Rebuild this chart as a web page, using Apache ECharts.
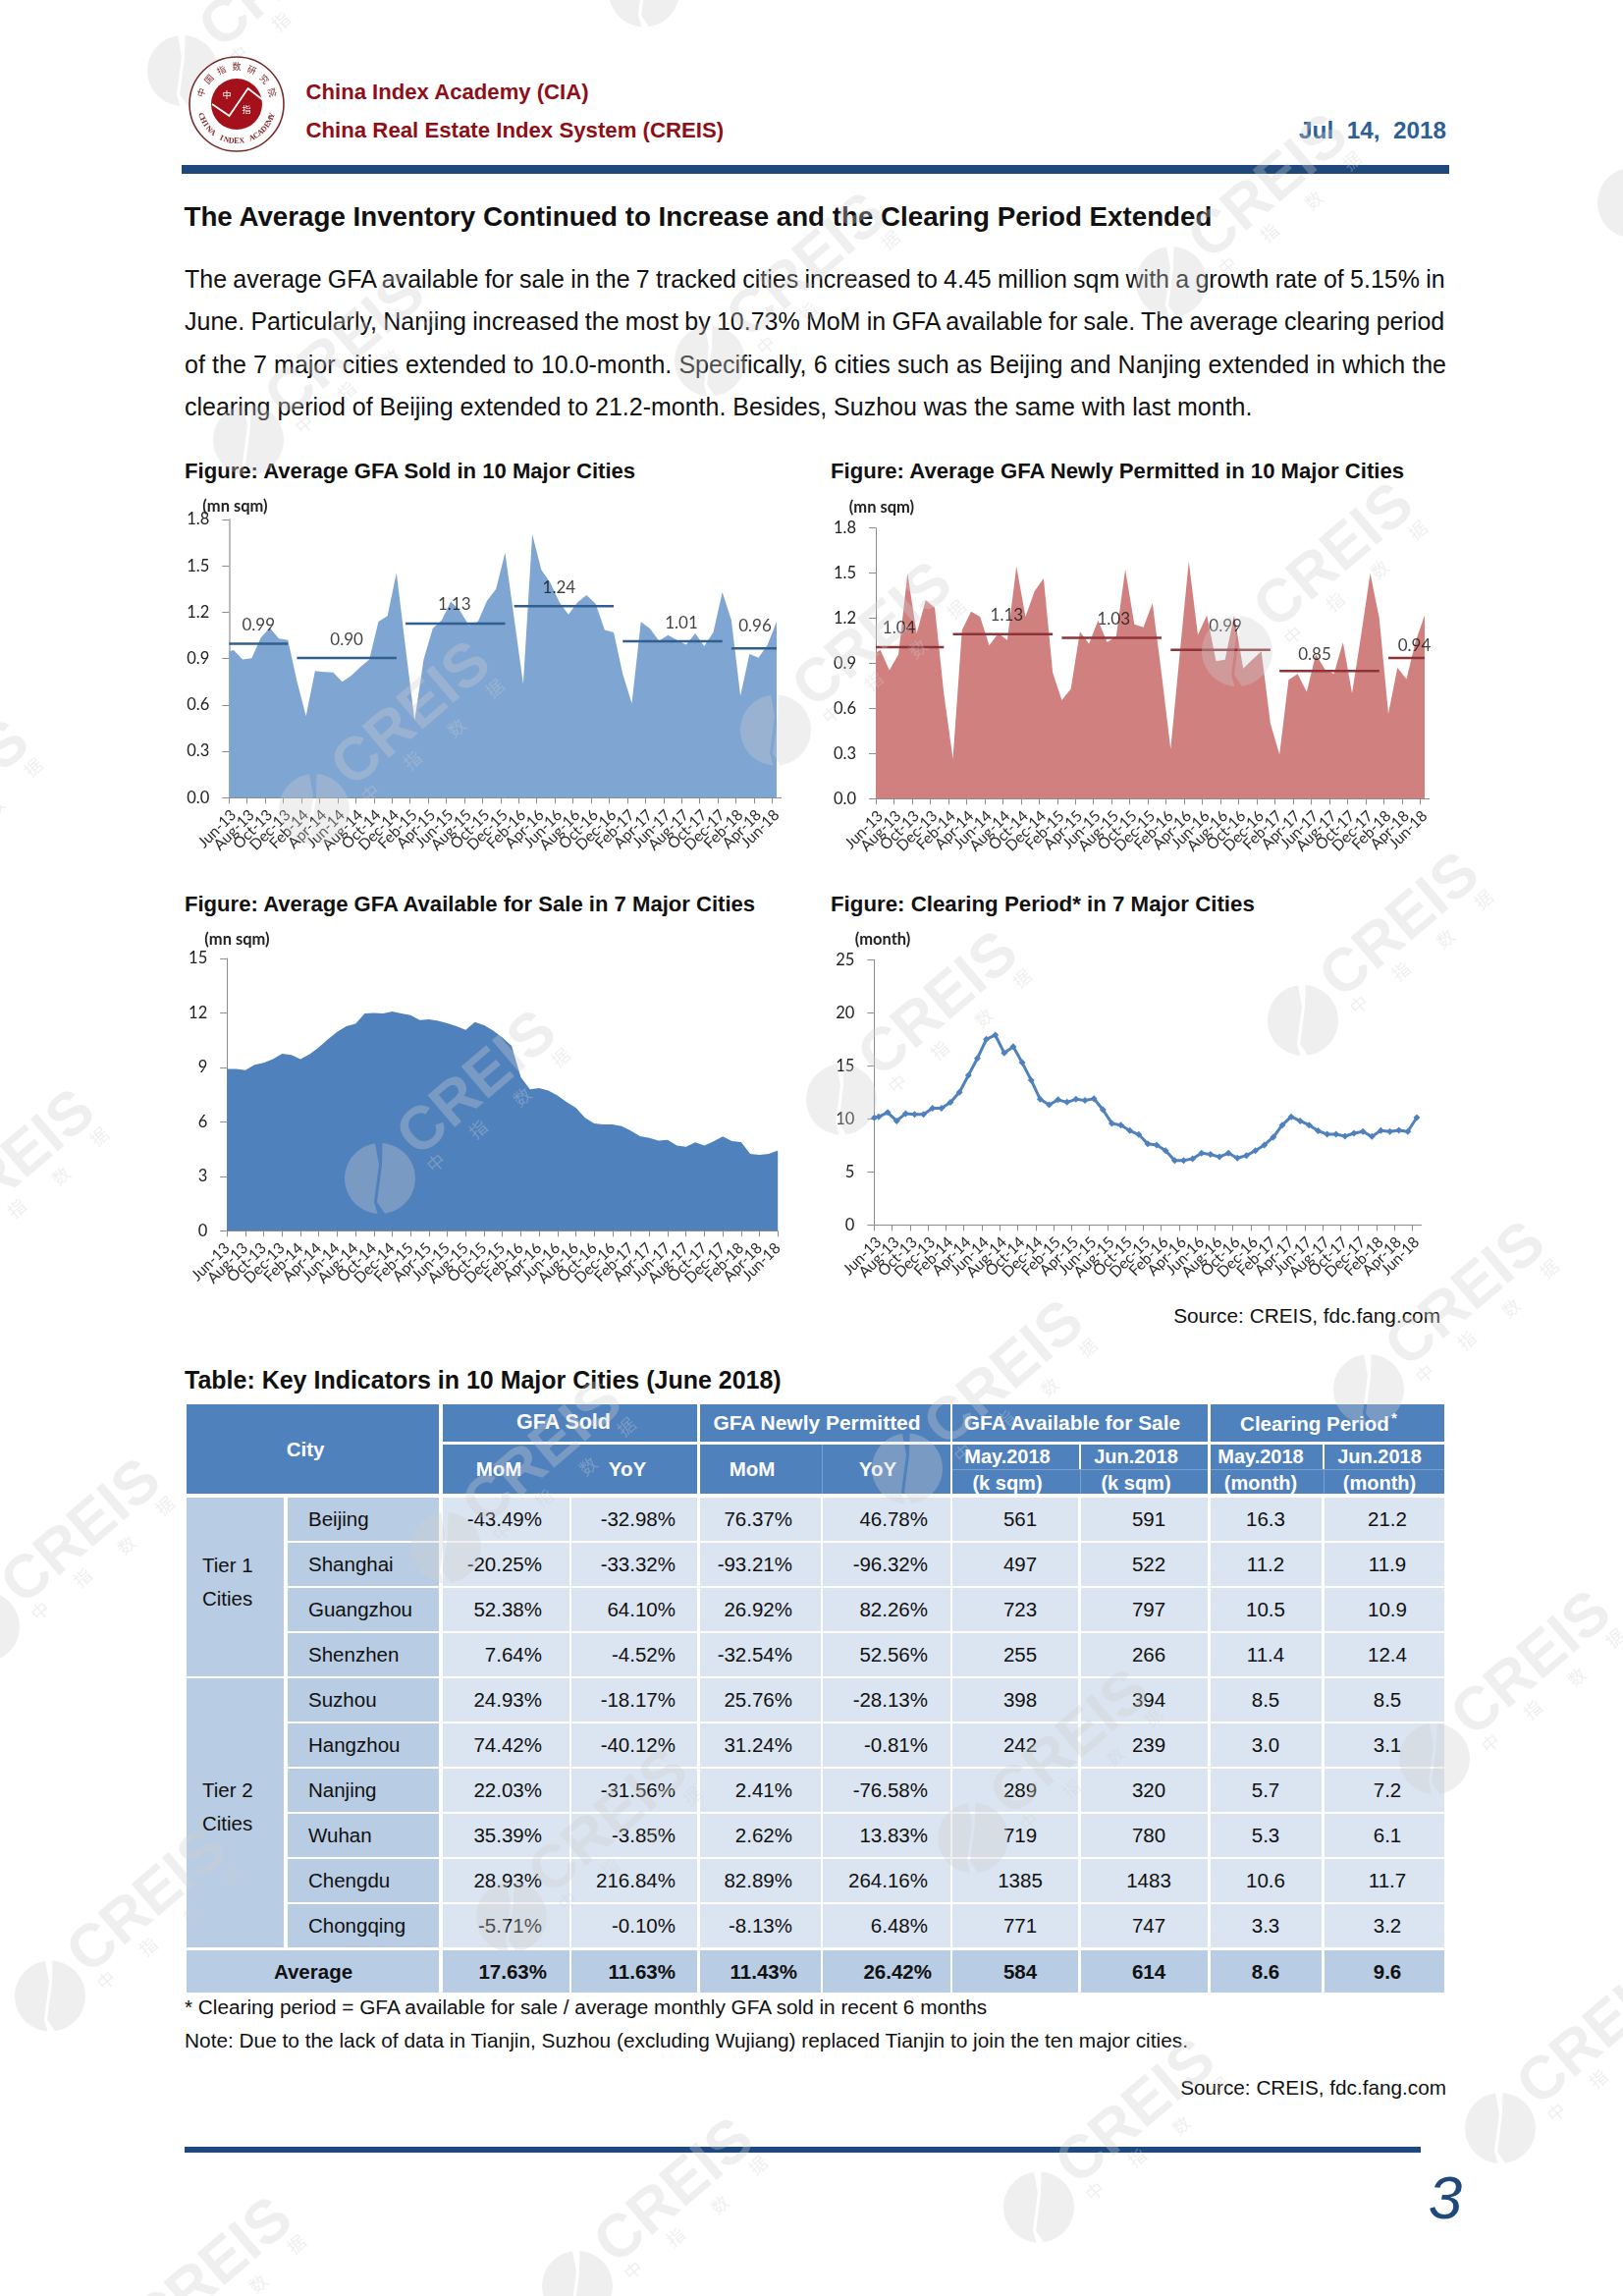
<!DOCTYPE html>
<html><head><meta charset="utf-8"><title>CREIS Inventory and Clearing Period</title>
<style>
html,body{margin:0;padding:0;background:#fff}
#page{position:relative;width:1653px;height:2338px;overflow:hidden;font-family:"Liberation Sans",Arial,sans-serif;color:#111}
#page .t{position:absolute;white-space:pre;transform:translateY(-50%);line-height:1.1}
#page .r{position:absolute}
#chart{position:absolute;left:0;top:0;width:1653px;height:2338px;pointer-events:none;z-index:10}
</style>
<script src="https://cdn.jsdelivr.net/npm/echarts@6/dist/echarts.min.js"></script>
</head><body><div id="page"><div id="chart"></div></div>
<script>
// ---------- chart data ----------
const tickLabels = ["Jun-13","Aug-13","Oct-13","Dec-13","Feb-14","Apr-14","Jun-14","Aug-14","Oct-14","Dec-14","Feb-15","Apr-15","Jun-15","Aug-15","Oct-15","Dec-15","Feb-16","Apr-16","Jun-16","Aug-16","Oct-16","Dec-16","Feb-17","Apr-17","Jun-17","Aug-17","Oct-17","Dec-17","Feb-18","Apr-18","Jun-18"];
const gfaSoldEdge = 0.947;
const gfaSold = [0.955,0.894,0.902,1.035,1.10,1.03,1.02,0.755,0.527,0.82,0.813,0.81,0.75,0.79,0.845,0.894,1.14,1.175,1.455,0.97,0.50,0.894,1.095,1.148,1.27,1.21,1.115,1.14,1.275,1.35,1.586,1.16,0.735,1.705,1.475,1.39,1.265,1.185,1.265,1.31,1.255,1.085,1.07,0.80,0.61,1.137,1.095,1.015,1.052,1.02,0.99,1.063,0.98,1.07,1.33,1.148,0.66,0.93,0.905,0.99,1.14];
const gfaSoldAvgLine = [0.997,0.904,1.127,1.24,1.012,0.966];
const gfaSoldAvgText = ["0.99","0.90","1.13","1.24","1.01","0.96"];
const gfaSoldSpans = [[0,6.5],[7.5,18.5],[19.5,30.5],[31.5,42.5],[43.5,54.5],[55.5,60.5]];
const gfaPermittedEdge = 0.97;
const gfaPermitted = [0.99,0.855,0.96,1.50,1.10,1.32,1.27,0.70,0.265,1.12,1.245,1.21,1.02,1.10,1.055,1.545,1.21,1.38,1.465,0.84,0.655,0.73,1.11,1.03,1.185,1.04,1.08,1.525,1.16,1.14,1.30,0.83,0.33,0.96,1.58,1.09,1.22,0.915,0.925,1.22,0.865,0.925,0.98,0.50,0.295,0.79,0.83,0.71,0.96,0.86,0.83,1.04,0.70,1.09,1.50,1.20,0.565,0.87,0.795,1.045,1.22];
const gfaPermittedAvgLine = [1.008,1.095,1.07,0.99,0.85,0.936];
const gfaPermittedAvgText = ["1.04","1.13","1.03","0.99","0.85","0.94"];
const gfaPermittedSpans = [[0,7.5],[8.5,19.5],[20.5,31.5],[32.5,43.5],[44.5,55.5],[56.5,60.5]];
const gfaAvailable = [8.92,8.92,8.85,9.15,9.25,9.45,9.75,9.68,9.45,9.73,10.1,10.55,10.96,11.27,11.4,11.97,12.0,11.97,12.08,11.97,11.88,11.6,11.65,11.57,11.43,11.27,11.07,11.5,11.32,11.03,10.64,10.19,8.47,7.79,7.86,7.72,7.45,7.09,6.78,6.22,5.91,5.86,5.86,5.77,5.5,5.21,5.12,4.96,5.01,4.7,4.63,4.87,4.69,4.92,5.19,4.94,4.89,4.24,4.18,4.24,4.42];
const clearingEdge = 10.1;
const clearingPeriod = [10.2,10.6,9.8,10.5,10.43,10.43,11.0,11.0,11.55,12.5,14.1,15.7,17.5,17.9,16.2,16.8,15.3,13.65,11.85,11.33,11.8,11.57,11.85,11.73,11.9,10.86,9.57,9.41,8.89,8.52,7.65,7.53,7.0,6.08,6.08,6.23,6.76,6.64,6.42,6.76,6.3,6.54,7.0,7.53,8.27,9.41,10.2,9.8,9.41,8.86,8.55,8.55,8.36,8.64,8.8,8.33,8.89,8.8,8.92,8.8,10.12];

// ---------- table data ----------
const tableCities = ["Beijing","Shanghai","Guangzhou","Shenzhen","Suzhou","Hangzhou","Nanjing","Wuhan","Chengdu","Chongqing"];
const soldMoM = ["-43.49%","-20.25%","52.38%","7.64%","24.93%","74.42%","22.03%","35.39%","28.93%","-5.71%"];
const soldYoY = ["-32.98%","-33.32%","64.10%","-4.52%","-18.17%","-40.12%","-31.56%","-3.85%","216.84%","-0.10%"];
const permitMoM = ["76.37%","-93.21%","26.92%","-32.54%","25.76%","31.24%","2.41%","2.62%","82.89%","-8.13%"];
const permitYoY = ["46.78%","-96.32%","82.26%","52.56%","-28.13%","-0.81%","-76.58%","13.83%","264.16%","6.48%"];
const availMay = ["561","497","723","255","398","242","289","719","1385","771"];
const availJun = ["591","522","797","266","394","239","320","780","1483","747"];
const clearMay = ["16.3","11.2","10.5","11.4","8.5","3.0","5.7","5.3","10.6","3.3"];
const clearJun = ["21.2","11.9","10.9","12.4","8.5","3.1","7.2","6.1","11.7","3.2"];
const averageRow = ["17.63%","11.63%","11.43%","26.42%","584","614","8.6","9.6"];

// ---------- page text ----------
const bodyLines = [
 "The average GFA available for sale in the 7 tracked cities increased to 4.45 million sqm with a growth rate of 5.15% in",
 "June. Particularly, Nanjing increased the most by 10.73% MoM in GFA available for sale. The average clearing period",
 "of the 7 major cities extended to 10.0-month. Specifically, 6 cities such as Beijing and Nanjing extended in which the",
 "clearing period of Beijing extended to 21.2-month. Besides, Suzhou was the same with last month."];

const page = document.getElementById('page');
const mctx = document.createElement('canvas').getContext('2d');
const FF = '"Liberation Sans",Arial,sans-serif';
function fit(text, bold, w, italic){
  mctx.font = (italic?'italic ':'')+(bold?'bold ':'')+'100px '+FF;
  return 100*w/mctx.measureText(text).width;
}
function put(text, x, y, o){
  o = o||{};
  const d = document.createElement('div'); d.className='t';
  const size = o.size || fit(text, o.bold, o.w, o.italic);
  d.textContent = text;
  d.style.fontSize = size+'px';
  d.style.top = y+'px';
  if(o.bold) d.style.fontWeight='bold';
  if(o.italic) d.style.fontStyle='italic';
  if(o.color) d.style.color=o.color;
  if(o.align==='center'){ d.style.left=x+'px'; d.style.transform='translate(-50%,-50%)'; }
  else if(o.align==='right'){ d.style.right=(1653-x)+'px'; }
  else d.style.left=x+'px';
  page.appendChild(d);
  return d;
}
function rect(x0,y0,x1,y1,c){
  const d=document.createElement('div'); d.className='r';
  d.style.cssText+=`left:${x0}px;top:${y0}px;width:${x1-x0}px;height:${y1-y0}px;background:${c}`;
  page.appendChild(d);
  return d;
}
// header
const RED='#8f0f18', NAVY='#1f497d';
put("China Index Academy (CIA)",311.5,94,{w:289,bold:1,color:RED});
put("China Real Estate Index System (CREIS)",311.5,133,{w:426,bold:1,color:RED});
put("Jul  14,  2018",1473,133,{w:150,bold:1,color:'#2d5f96',align:'right'});
rect(185,168,1476,176.5,NAVY);
put("The Average Inventory Continued to Increase and the Clearing Period Extended",187.5,220.5,{w:1048,bold:1});
const bodySize = fit(bodyLines[3],false,1088);
[284.7,328,372,414.5].forEach((y,i)=>{
  const d=put(bodyLines[i],188,y,{size:bodySize});
  if(i<3){
    mctx.font=bodySize+'px '+FF;
    const gaps=bodyLines[i].split(' ').length-1;
    d.style.wordSpacing=((1285-mctx.measureText(bodyLines[i]).width)/gaps)+'px';
  }
});
put("Figure: Average GFA Sold in 10 Major Cities",188,480,{w:461,bold:1});
put("Figure: Average GFA Newly Permitted in 10 Major Cities",846,480,{w:586,bold:1});
put("Figure: Average GFA Available for Sale in 7 Major Cities",188,921,{w:584,bold:1});
put("Figure: Clearing Period* in 7 Major Cities",846,921,{w:432,bold:1});
put("Source: CREIS, fdc.fang.com",1467,1340,{w:272,align:'right'});
put("Table: Key Indicators in 10 Major Cities (June 2018)",188,1405.5,{w:608,bold:1});
put("* Clearing period = GFA available for sale / average monthly GFA sold in recent 6 months",188,2043.5,{w:820});
put("Note: Due to the lack of data in Tianjin, Suzhou (excluding Wujiang) replaced Tianjin to join the ten major cities.",188,2078,{w:1023});
put("Source: CREIS, fdc.fang.com",1473,2126,{w:271,align:'right'});
rect(188,2185.5,1447,2191.5,NAVY);
put("3",1472,2238,{size:62,italic:1,color:NAVY,align:'center'});

// table
const HEAD='#4f81bd', MID='#b8cce4', LIGHT='#dbe5f1';
const cx=[[190,291],[293,447],[451,580],[582,710],[713,836],[838,968],[970,1098],[1101,1230],[1233,1346],[1349,1471]];
const rowTop=i=>1525+46*i, rowH=43.5;
rect(190,1430,447,1521,HEAD);
[[451,710],[713,968],[970,1230],[1233,1471]].forEach(g=>{
  rect(g[0],1430,g[1],1468,HEAD); rect(g[0],1471,g[1],1521,HEAD);
});
rect(836.5,1471,837.5,1521,'#7aa0cf');
[1098.5,1346.5].forEach(v=>{ rect(v,1471,v+2.5,1496,'#fff'); rect(v+1,1496,v+2,1521,'#7aa0cf'); });
rect(970,1495.5,1230,1496.5,'#7aa0cf'); rect(1233,1495.5,1471,1496.5,'#7aa0cf');
const HB={bold:1,color:'#fff',align:'center'}, H=s=>Object.assign({},HB,{size:s});
put("City",311,1476,H(20.5));
put("GFA Sold",574,1449,H(21.5)); put("GFA Newly Permitted",832,1449,{bold:1,color:'#fff',align:'center',w:212});
put("GFA Available for Sale",1092,1449,{bold:1,color:'#fff',align:'center',w:222}); put("Clearing Period",1339,1450,{bold:1,color:'#fff',align:'center',w:152});
put("*",1420,1444,H(15));
put("MoM",508,1496,H(20.5)); put("YoY",639,1496,H(20.5)); put("MoM",766,1496,H(20.5)); put("YoY",894,1496,H(20.5));
[[1026,"(k sqm)"],[1157,"(k sqm)"],[1284,"(month)"],[1405,"(month)"]].forEach((c,i)=>{
  put(i%2?"Jun.2018":"May.2018",c[0],1483,H(20));
  put(c[1],c[0],1510,H(20));
});
rect(190,1525,289,rowTop(3)+rowH,MID); rect(190,rowTop(4),289,rowTop(9)+rowH,MID);
put("Tier 1",206,1594,{size:20.5}); put("Cities",206,1628,{size:20.5});
put("Tier 2",206,1823,{size:20.5}); put("Cities",206,1857,{size:20.5});
const valueCols=[soldMoM,soldYoY,permitMoM,permitYoY,availMay,availJun,clearMay,clearJun];
const pad=[28,22,29,23], padAvg=[23,22,24,19];
const centerX=[1039,1170,1289,1413];
tableCities.forEach((c,i)=>{
  const y=rowTop(i), m=y+rowH/2;
  rect(293,y,447,y+rowH,MID);
  put(c,314,m,{size:20.5});
  valueCols.forEach((col,j)=>{
    const b=cx[j+2];
    rect(b[0],y,b[1],y+rowH,LIGHT);
    if(j<4) put(col[i],b[1]-pad[j],m,{size:20.5,align:'right'});
    else put(col[i],centerX[j-4],m,{size:20.5,align:'center'});
  });
});
{
  const y=rowTop(10)+0.5, m=y+22;
  rect(190,y,447,2029,MID);
  put("Average",319,m,{size:20.5,bold:1,align:'center'});
  averageRow.forEach((v,j)=>{
    const b=cx[j+2];
    rect(b[0],y,b[1],2029,MID);
    if(j<4) put(v,b[1]-padAvg[j],m,{size:20.5,bold:1,align:'right'});
    else put(v,centerX[j-4],m,{size:20.5,bold:1,align:'center'});
  });
}

// ---------- charts ----------
const LF='Lato';
const tickEven=[...Array(31).keys()].map(i=>i*2);
const sparseMonths=tickLabels.flatMap((t,i)=>i<30?[t,'']:[t]);
function valueX(g, spanMax){
  return {gridIndex:g,type:'value',position:'bottom',min:0,max:spanMax,interval:2,splitLine:{show:false},
    axisLine:{show:true,onZero:false,lineStyle:{color:'#8c8c8c',width:1}},
    axisTick:{show:true,length:6,lineStyle:{color:'#8c8c8c'},customValues:tickEven},
    axisLabel:{show:false}};
}
function labelX(g, gap){
  return {gridIndex:g,type:'category',position:'bottom',boundaryGap:gap,data:sparseMonths,
    axisLine:{show:false,onZero:false},axisTick:{show:false},
    axisLabel:{show:true,interval:0,rotate:45,margin:15,fontFamily:LF,fontSize:15.5,color:'#2b2b2b',hideOverlap:false}};
}
function yAxisFor(g,max,iv,dec,lc){
  return {gridIndex:g,type:'value',min:0,max:max,interval:iv,splitLine:{show:false},
    axisLine:{show:true,lineStyle:{color:lc,width:lc==='#bdbdbd'?2:1}},
    axisTick:{show:true,length:7,lineStyle:{color:'#8c8c8c'}},
    axisLabel:{margin:20,fontFamily:LF,fontSize:16.5,color:'#222',formatter:v=>v.toFixed(dec)}};
}
const grids=[
 {left:233.3,top:529,width:562.3,height:283.3},
 {left:892,top:537.7,width:563.6,height:275.6},
 {left:231.2,top:976,width:561,height:277.3},
 {left:890.4,top:977.3,width:557.1,height:270}
];
const xAxes=[valueX(0,61),valueX(1,61),valueX(2,60),valueX(3,61),labelX(0,true),labelX(1,true),labelX(2,false),labelX(3,true)];
const yAxes=[yAxisFor(0,1.8,0.3,1,'#bdbdbd'),yAxisFor(1,1.8,0.3,1,'#8c8c8c'),yAxisFor(2,15,3,0,'#8c8c8c'),yAxisFor(3,25,5,0,'#8c8c8c')];
const binned=(edge,vals)=>[[0,edge]].concat(vals.map((v,i)=>[i+0.5,v]));
const series=[];
function area(g,data,color){
  series.push({type:'line',xAxisIndex:g,yAxisIndex:g,data:data,showSymbol:false,symbol:'none',silent:true,
    lineStyle:{width:0},itemStyle:{color:color},areaStyle:{color:color,opacity:1},z:2,animation:false});
}
function avgSegs(g,spans,vals,texts,color,shift){
  spans.forEach((s,i)=>{
    series.push({type:'line',xAxisIndex:g,yAxisIndex:g,data:[[s[0],vals[i]],[s[1],vals[i]]],showSymbol:false,symbol:'none',silent:true,
      lineStyle:{width:2.5,color:color},z:3,animation:false});
  });
  series.push({type:'scatter',xAxisIndex:g,yAxisIndex:g,symbolSize:1,silent:true,itemStyle:{color:'transparent'},z:4,animation:false,
    data:spans.map((s,i)=>({value:[(s[0]+s[1])/2,vals[i]],
      label:{show:true,position:'top',distance:10,offset:shift[i],formatter:texts[i],fontFamily:LF,fontSize:17,color:'#111'}}))});
}
area(0,binned(gfaSoldEdge,gfaSold),'#7fa5d2');
avgSegs(0,gfaSoldSpans,gfaSoldAvgLine,gfaSoldAvgText,'#31608f',[[0,0],[0,0],[-1,0],[-5,0],[9,0],[1,-4]]);
area(1,binned(gfaPermittedEdge,gfaPermitted),'#d18080');
avgSegs(1,gfaPermittedSpans,gfaPermittedAvgLine,gfaPermittedAvgText,'#8e3437',[[-11,0],[4,0],[2,0],[5,-5],[-15,2],[8,7]]);
area(2,gfaAvailable.map((v,i)=>[i,v]),'#4f81bd');
series.push({type:'line',xAxisIndex:3,yAxisIndex:3,data:binned(clearingEdge,clearingPeriod),symbol:'diamond',symbolSize:7,showSymbol:true,showAllSymbol:true,
  lineStyle:{width:3,color:'#4f81bd'},itemStyle:{color:'#4f81bd'},animation:false,silent:true,z:3});

// ---------- graphics: unit captions, logo, watermark ----------
const gfx=[];
[["(mn sqm)",239.5,516],["(mn sqm)",898,517],["(mn sqm)",241.5,957],["(month)",899,957]].forEach(u=>{
  gfx.push({type:'text',x:u[1],y:u[2],z:5,silent:true,style:{text:u[0],align:'center',verticalAlign:'middle',font:'bold 16.5px '+LF,fill:'#222'}});
});
// watermark tile
const WMFILL='rgba(205,205,205,0.33)';
for(let m=-1;m<=3;m++)for(let n=-3;n<=5;n++){
  const lx=320+470*m+67*n, ly=824-80.5*m+376*n;
  if(lx<-250||lx>1800||ly<-120||ly>2450) continue;
  const R=36;
  const left=[],right=[];
  for(let a=184;a<=356;a+=8){const r=a*Math.PI/180;left.push([lx+R*Math.sin(r),ly-R*Math.cos(r)]);}
  for(let a=4;a<=176;a+=8){const r=a*Math.PI/180;right.push([lx+R*Math.sin(r),ly-R*Math.cos(r)]);}
  gfx.push({type:'polygon',z:50,silent:true,shape:{points:left.concat([[lx-1,ly-14],[lx-6,ly+24]])},style:{fill:WMFILL}});
  gfx.push({type:'polygon',z:50,silent:true,shape:{points:right.concat([[lx-3,ly+24],[lx+2,ly-14]])},style:{fill:WMFILL}});
  gfx.push({type:'text',z:50,silent:true,x:lx+100,y:ly-95,rotation:40.5*Math.PI/180,
    style:{text:'CREIS',align:'center',verticalAlign:'middle',font:'bold 62px "Liberation Sans"',fill:WMFILL}});
  [[57,-16,'中'],[100,-50,'指'],[145,-83,'数'],[184,-123,'据']].forEach(c=>{
    gfx.push({type:'text',z:50,silent:true,x:lx+c[0],y:ly+c[1],rotation:40.5*Math.PI/180,
      style:{text:c[2],align:'center',verticalAlign:'middle',font:'18px "Noto Sans CJK SC"',fill:WMFILL}});
  });
}
// CIA seal
const sx=241,sy=106;
gfx.push({type:'circle',z:60,silent:true,shape:{cx:sx,cy:sy,r:48},style:{fill:'#fff',stroke:'#7c2b2b',lineWidth:1.6}});
gfx.push({type:'circle',z:61,silent:true,shape:{cx:sx,cy:sy,r:26},style:{fill:'#a5111a'}});
gfx.push({type:'polyline',z:62,silent:true,shape:{points:[[216,106],[233.5,118],[252.6,90],[268,102]]},style:{stroke:'#fff',lineWidth:1.8,fill:'none'}});
gfx.push({type:'text',z:62,silent:true,x:231,y:97,style:{text:'中',align:'center',verticalAlign:'middle',font:'9px "Noto Sans CJK SC"',fill:'#fff'}});
gfx.push({type:'text',z:62,silent:true,x:251,y:112,style:{text:'指',align:'center',verticalAlign:'middle',font:'9px "Noto Sans CJK SC"',fill:'#fff'}});
const sealTop='中国指数研究院', sealBot='CHINA INDEX ACADEMY';
[...sealTop].forEach((c,i)=>{
  const th=(-72+24*i)*Math.PI/180;
  gfx.push({type:'text',z:62,silent:true,x:sx+38*Math.sin(th),y:sy-38*Math.cos(th),rotation:-th,
    style:{text:c,align:'center',verticalAlign:'middle',font:'9px "Noto Sans CJK SC"',fill:'#7c2b2b'}});
});
[...sealBot].forEach((c,i)=>{
  const th=(-72+8*i)*Math.PI/180;
  gfx.push({type:'text',z:62,silent:true,x:sx+38*Math.sin(th),y:sy+38*Math.cos(th),rotation:th,
    style:{text:c,align:'center',verticalAlign:'middle',font:'bold 8px "Liberation Serif"',fill:'#7c2b2b'}});
});

const chart=echarts.init(document.getElementById('chart'),null,{width:1653,height:2338});
chart.setOption({animation:false,backgroundColor:'transparent',tooltip:{show:false},
  grid:grids,xAxis:xAxes,yAxis:yAxes,series:series,graphic:{elements:gfx}});
</script></body></html>
